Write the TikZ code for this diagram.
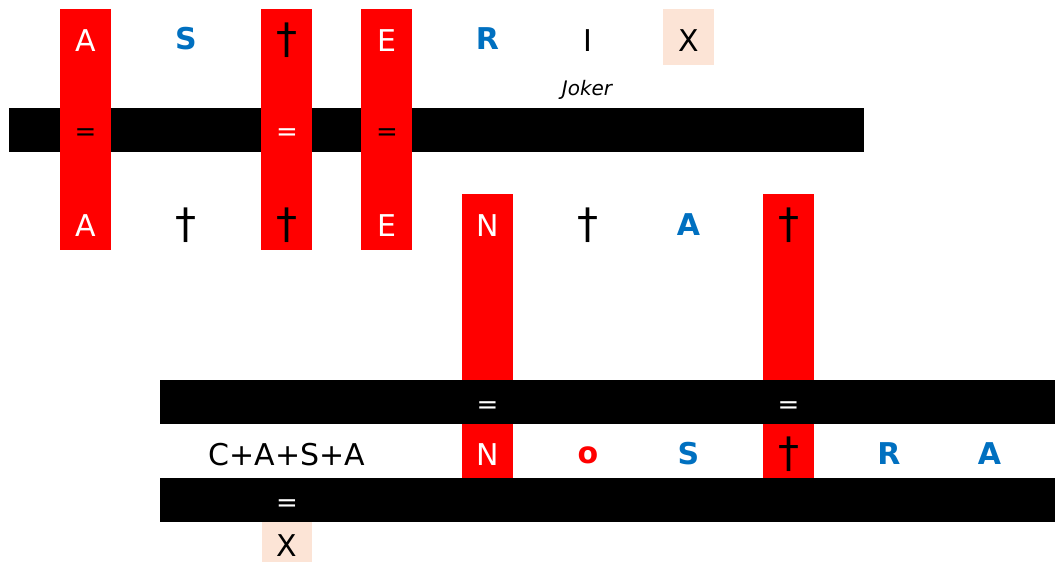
\documentclass[tikz,border=0pt]{standalone}
\usepackage{fontspec}
\setmainfont{DejaVu Sans}
\usepackage{xcolor}
\definecolor{hit}{HTML}{FF0000}
\definecolor{wild}{HTML}{0070C0}
\definecolor{joker}{HTML}{FCE4D6}

\begin{document}
\begin{tikzpicture}[x=1pt,y=-1pt,
  glyph/.style={anchor=base,inner sep=0pt,font=\fontsize{30}{36}\selectfont},
  onhit/.style={glyph,white},
  dagger/.style={anchor=center,inner sep=0pt,font=\fontsize{42}{48}\selectfont},
  wildglyph/.style={anchor=base,inner sep=0pt,wild,font=\fontsize{30}{34}\selectfont\bfseries},
  eqsign/.style={inner sep=0pt,font=\fontsize{26}{30}\selectfont}]
  \useasboundingbox (0,0) rectangle (1055,562);

  % First bar
  \fill (9,108) rectangle (864,152);

  % Red columns through the first bar
  \fill[hit] (60,9) rectangle (111,250);
  \fill[hit] (261,9) rectangle (312,250);
  \fill[hit] (361,9) rectangle (412,250);
  \fill[joker] (663,9) rectangle (714,65);

  % Red columns down to the last row
  \fill[hit] (462,194) rectangle (513,478);
  \fill[hit] (763,194) rectangle (814,478);

  % Lower bars
  \fill (160,380) rectangle (1055,424);
  \fill (160,478) rectangle (1055,522);
  \fill[joker] (262,522) rectangle (312,562);

  % Top row
  \node[onhit] (tA) at (85.5,51) {A};
  \node[wildglyph] (tS) at (186,49) {S};
  \node[dagger] (tDag) at (287,40) {†};
  \node[onhit] (tE) at (387,51) {E};
  \node[wildglyph] (tR) at (487.5,49) {R};
  \node[glyph] (tI) at (588,51) {I};
  \node[glyph] (tX) at (688.5,51) {X};
  \node[anchor=base,inner sep=0pt,font=\fontsize{20}{24}\selectfont\itshape] (joker) at (587,95) {Joker};

  % Equal signs in the first bar
  \node[eqsign] (eqA) at (85.5,135) {=};
  \node[eqsign,white] (eqDag) at (287,135) {=};
  \node[eqsign] (eqE) at (387,135) {=};

  % Middle row
  \node[onhit] (mA) at (85.5,236) {A};
  \node[dagger] (mDagA) at (186,225) {†};
  \node[dagger] (mDagB) at (287,225) {†};
  \node[onhit] (mE) at (387,236) {E};
  \node[onhit] (mN) at (487.5,236) {N};
  \node[dagger] (mDagC) at (588,225) {†};
  \node[wildglyph] (mA2) at (688.5,235) {A};
  \node[dagger] (mDagD) at (788.5,225) {†};

  % Equal signs in the second bar
  \node[eqsign,white] (eqN) at (487.5,408) {=};
  \node[eqsign,white] (eqDagD) at (788.5,408) {=};

  % Bottom row
  \node[glyph] (casa) at (287,465) {C+A+S+A};
  \node[onhit] (bN) at (487.5,465) {N};
  \node[anchor=base,inner sep=0pt,hit,font=\fontsize{30}{34}\selectfont\bfseries] (bo) at (588,463) {o};
  \node[wildglyph] (bS) at (688.5,464) {S};
  \node[dagger] (bDag) at (788.5,454) {†};
  \node[wildglyph] (bR) at (889,464) {R};
  \node[wildglyph] (bA) at (989.5,464) {A};

  % Last bar and the joker under it
  \node[eqsign,white] (eqCasa) at (287,506) {=};
  \node[glyph] (bX) at (287,556) {X};
\end{tikzpicture}
\end{document}
